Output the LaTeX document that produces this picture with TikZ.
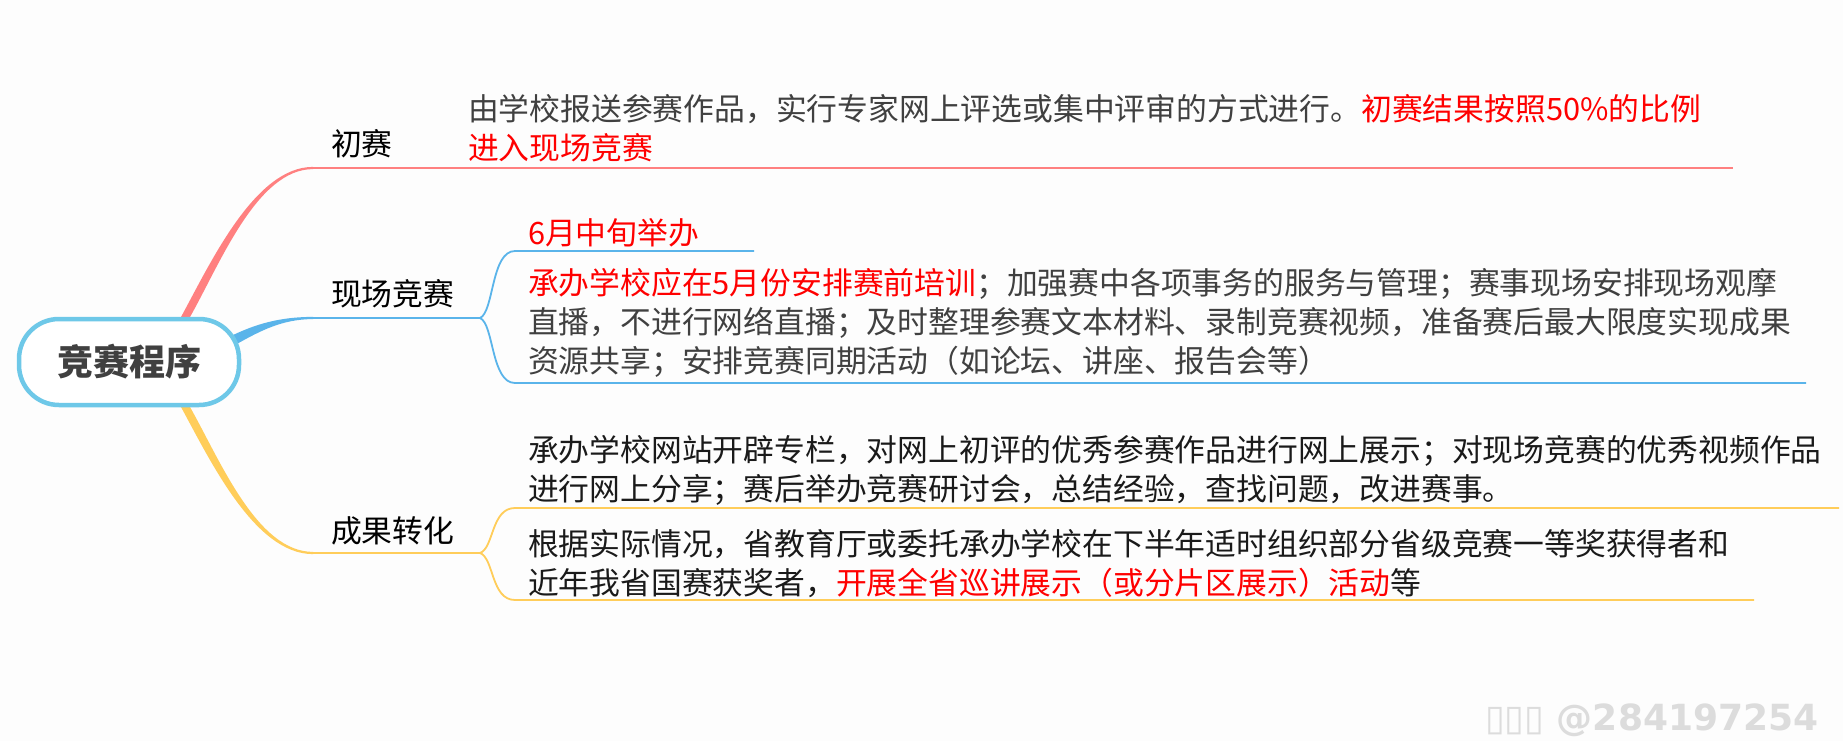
\documentclass[tikz,border=0pt]{standalone}
\usepackage{fontspec}
\newfontfamily\cjk{Noto Sans CJK SC}
\newfontfamily\wmfont{DejaVu Sans}
\usetikzlibrary{positioning, calc}
\pgfdeclarelayer{bg}
\pgfsetlayers{bg,main}

\definecolor{pagebg}{HTML}{FDFDFD}
\definecolor{rootblue}{HTML}{6EC8E8}
\definecolor{redline}{HTML}{FF8080}
\definecolor{blueline}{HTML}{5AB4EA}
\definecolor{yellowline}{HTML}{FFCD5A}
\definecolor{textgray}{HTML}{404040}
\definecolor{leafblack}{HTML}{1A1A1A}
\definecolor{hired}{HTML}{FF0000}
\definecolor{wmgray}{HTML}{DCDCDC}

\begin{document}
\begin{tikzpicture}[x=1pt, y=-1pt,
    every node/.style={inner sep=0pt, outer sep=0pt},
    rootbox/.style={draw=rootblue, line width=4.5pt, fill=white, rounded corners=40pt, minimum width=220pt, minimum height=86pt, font=\cjk\bfseries\fontsize{36}{36}\selectfont, text=textgray},
    topic/.style={anchor=base west, font=\cjk\fontsize{30.8}{30.8}\selectfont, text=black},
    leaf/.style={anchor=base west, align=left, font=\cjk\fontsize{30.8}{39}\selectfont, text=textgray},
    hline/.style={line width=2.2pt},
    brace/.style={line width=1.8pt}
]

\useasboundingbox (0,0) rectangle (1843,741);

% Root
\node[rootbox] (root) at (129,362) {竞赛程序};

% Topics
\node[topic] (chusai) at (331,155) {初赛};
\node[topic] (xianchang) at (331,305) {现场竞赛};
\node[topic] (chengguo) at (331,542) {成果转化};

% Leaf texts (anchored on the baseline of the last line)
\node[leaf] (chusaiText) at (468,159) {由学校报送参赛作品，实行专家网上评选或集中评审的方式进行。\textcolor{hired}{初赛结果按照50\%的比例}\\\textcolor{hired}{进入现场竞赛}};
\node[leaf, text=hired] (timeText) at (528,244) {6月中旬举办};
\node[leaf] (xianchangText) at (528,372) {\textcolor{hired}{承办学校应在5月份安排赛前培训}；加强赛中各项事务的服务与管理；赛事现场安排现场观摩\\直播，不进行网络直播；及时整理参赛文本材料、录制竞赛视频，准备赛后最大限度实现成果\\资源共享；安排竞赛同期活动（如论坛、讲座、报告会等）};
\node[leaf, text=leafblack] (showText) at (528,500) {承办学校网站开辟专栏，对网上初评的优秀参赛作品进行网上展示；对现场竞赛的优秀视频作品\\进行网上分享；赛后举办竞赛研讨会，总结经验，查找问题，改进赛事。};
\node[leaf, text=leafblack] (tourText) at (528,594) {根据实际情况，省教育厅或委托承办学校在下半年适时组织部分省级竞赛一等奖获得者和\\近年我省国赛获奖者，\textcolor{hired}{开展全省巡讲展示（或分片区展示）活动}等};

% Branch ends
\coordinate (redStart) at (312,168);
\coordinate (redEnd) at (1733,168);
\coordinate (blueStart) at (312,318);
\coordinate (blueFork) at (480,318);
\coordinate (blueTop) at (515,251);
\coordinate (blueTopEnd) at (754,251);
\coordinate (blueBot) at (515,383);
\coordinate (blueBotEnd) at (1806,383);
\coordinate (yelStart) at (312,553);
\coordinate (yelFork) at (480,553);
\coordinate (yelTop) at (515,508);
\coordinate (yelTopEnd) at (1839,508);
\coordinate (yelBot) at (515,600);
\coordinate (yelBotEnd) at (1754,600);

% Page and tapered branches from the root
\begin{pgfonlayer}{bg}
\fill[pagebg] (0,0) rectangle (1843,741);
\fill[redline] (178,335) -- (181,317) .. controls (211,262) and (255,166.9) .. (313,166.9) -- (313,169.1) .. controls (257,169.1) and (220,264) .. (190,317) -- (188,335) -- cycle;
\fill[blueline] (220,345) -- (229,337) .. controls (255,324) and (280,316.9) .. (313,316.9) -- (313,319.1) .. controls (282,319.1) and (260,331) .. (235,345) -- cycle;
\fill[yellowline] (178,390) -- (181,407) .. controls (211,462) and (255,554.1) .. (313,554.1) -- (313,551.9) .. controls (257,551.9) and (220,460) .. (190,407) -- (188,390) -- cycle;
\end{pgfonlayer}

% Lines
\draw[hline, redline] (redStart) -- (redEnd);
\draw[hline, blueline] (blueStart) -- (blueFork);
\draw[brace, blueline] (blueFork) .. controls +(14,-6) and +(-24,0) .. (blueTop) -- (blueTopEnd);
\draw[brace, blueline] (blueFork) .. controls +(14,6) and +(-24,0) .. (blueBot) -- (blueBotEnd);
\draw[hline, yellowline] (yelStart) -- (yelFork);
\draw[brace, yellowline] (yelFork) .. controls +(14,-5) and +(-24,0) .. (yelTop) -- (yelTopEnd);
\draw[brace, yellowline] (yelFork) .. controls +(14,5) and +(-24,0) .. (yelBot) -- (yelBotEnd);

% Watermark
\node[anchor=base west, font=\wmfont\bfseries\fontsize{36}{36}\selectfont, text=wmgray] (mark) at (1485,730) {▯▯▯ @284197254};

\end{tikzpicture}
\end{document}
